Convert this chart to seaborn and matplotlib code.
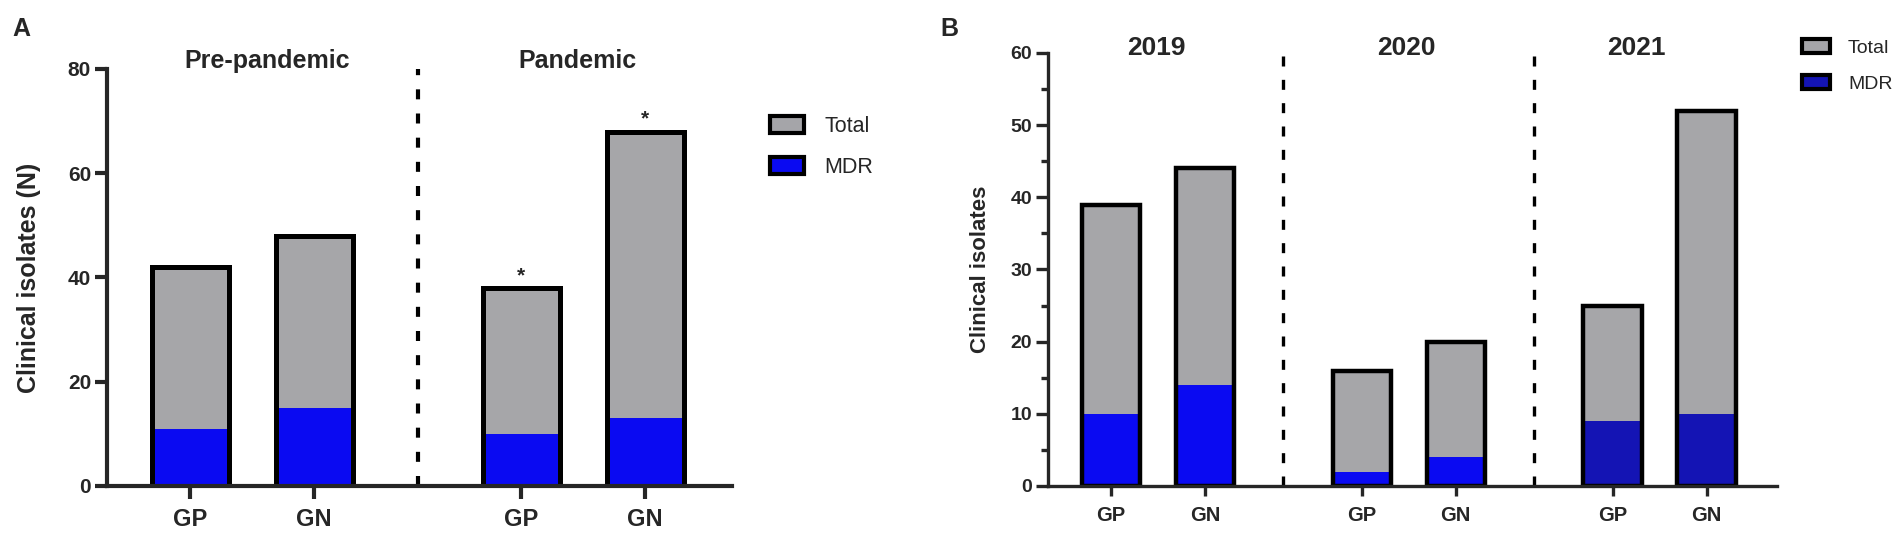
import seaborn as sns
import pandas as pd
import numpy as np
import matplotlib.pyplot as plt
from matplotlib.patches import Patch
from matplotlib.ticker import NullLocator

# ---- data ----
groups = ["GP", "GN"]
periods_a = ["Pre-pandemic", "Pandemic"]
total_a = [42, 48, 38, 68]
mdr_a = [11, 15, 10, 13]
star_a = [False, False, True, True]

years_b = ["2019", "2020", "2021"]
total_b = [39, 44, 16, 20, 25, 52]
mdr_b = [10, 14, 2, 4, 9, 10]

GREY = "#a5a5a9"
BLUE = "#0a0af2"
DARKBLUE = "#1414b4"

sns.set_style("ticks")
plt.rcParams["font.family"] = ["Liberation Sans", "DejaVu Sans"]

STEP = 2.67  # distance between the first bars of two blocks


def make_df(blocks, total, mdr):
    rows = []
    for i, b in enumerate(blocks):
        for j, g in enumerate(groups):
            k = i * len(groups) + j
            rows.append({"block": b, "group": g, "pos": i * STEP + j,
                         "total": total[k], "mdr": mdr[k]})
    return pd.DataFrame(rows)


def draw_panel(ax, df, mdr_palette, edge_lw):
    sns.barplot(data=df, x="pos", y="total", native_scale=True, color=GREY,
                width=0.64, errorbar=None, linewidth=0, ax=ax)
    sns.barplot(data=df, x="pos", y="mdr", hue="block", palette=mdr_palette,
                dodge=False, native_scale=True, width=0.64, errorbar=None,
                linewidth=0, legend=False, saturation=1, ax=ax)
    sns.barplot(data=df, x="pos", y="total", native_scale=True, fill=False,
                color="black", edgecolor="black", width=0.64 - 0.02,
                errorbar=None, linewidth=edge_lw, ax=ax)
    ax.set_xticks(df["pos"], df["group"])
    ax.xaxis.set_minor_locator(NullLocator())
    ax.yaxis.set_minor_locator(NullLocator())
    ax.set_xlabel("")
    sns.despine(ax=ax)


fig = plt.figure(figsize=(19.04, 5.33), dpi=100)

# ---------------- panel A ----------------
axA = fig.add_axes([0.0562, 0.0882, 0.3283, 0.7824])
dfa = make_df(periods_a, total_a, mdr_a)
draw_panel(axA, dfa, {p: BLUE for p in periods_a}, 3.6)
axA.set_xlim(-0.67, STEP + 1.70)
axA.set_ylim(0, 80)
axA.set_yticks([0, 20, 40, 60, 80])
axA.set_ylabel("Clinical isolates (N)", fontsize=18, fontweight="bold")
axA.yaxis.set_label_coords(-0.106, 0.5)
for s in axA.spines.values():
    s.set_linewidth(3)
axA.tick_params(axis="y", length=8.5, width=3, labelsize=15, pad=3)
axA.tick_params(axis="x", length=9, width=3, labelsize=17, pad=7)
for t in axA.get_xticklabels() + axA.get_yticklabels():
    t.set_fontweight("bold")
axA.vlines(STEP / 2 + 0.5, 0, 80, colors="black", linewidth=3,
           linestyles=(0, (2.4, 3.4)))
for i, p in enumerate(periods_a):
    xs = dfa.loc[dfa["block"] == p, "pos"].mean() + (0.12 if i == 0 else -0.05)
    axA.text(xs, 81.6, p, ha="center", va="center", fontsize=18,
             fontweight="bold", clip_on=False)
for x, h, s in zip(dfa["pos"], dfa["total"], star_a):
    if s:
        axA.text(x, h + 2.4, "*", ha="center", va="center", fontsize=15,
                 fontweight="bold")
axA.legend(handles=[Patch(facecolor=GREY, edgecolor="black", linewidth=3, label="Total"),
                    Patch(facecolor=BLUE, edgecolor="black", linewidth=3, label="MDR")],
           loc="upper left", bbox_to_anchor=(0.4044, 0.7824),
           bbox_transform=fig.transFigure, frameon=False, fontsize=15.5,
           handlelength=1.57, handleheight=0.78, labelspacing=0.93,
           handletextpad=0.97, borderpad=0, borderaxespad=0)

# ---------------- panel B ----------------
axB = fig.add_axes([0.5504, 0.0882, 0.3829, 0.8124])
dfb = make_df(years_b, total_b, mdr_b)
draw_panel(axB, dfb, {"2019": BLUE, "2020": BLUE, "2021": DARKBLUE}, 3.2)
axB.set_xlim(-0.67, 2 * STEP + 1.75)
axB.set_ylim(0, 60)
axB.set_yticks(np.arange(0, 61, 10))
axB.set_yticks(np.arange(5, 60, 10), minor=True)
axB.set_ylabel("Clinical isolates", fontsize=16, fontweight="bold")
axB.yaxis.set_label_coords(-0.078, 0.5)
for s in axB.spines.values():
    s.set_linewidth(2.4)
axB.tick_params(axis="y", which="major", length=8.5, width=2.4, labelsize=14, pad=3)
axB.tick_params(axis="y", which="minor", length=5, width=2.4)
axB.tick_params(axis="x", length=7.5, width=2.4, labelsize=14.5, pad=7)
for t in axB.get_xticklabels() + axB.get_yticklabels():
    t.set_fontweight("bold")
for i in range(len(years_b) - 1):
    axB.vlines(i * STEP + STEP / 2 + 0.5, 0, 60, colors="black", linewidth=2.4,
               linestyles=(0, (3, 4)))
title_shift = [-0.02, -0.03, -0.25]
for i, y in enumerate(years_b):
    xs = dfb.loc[dfb["block"] == y, "pos"].mean() + title_shift[i]
    axB.text(xs, 60.7, y, ha="center", va="center", fontsize=19,
             fontweight="bold", clip_on=False)
axB.legend(handles=[Patch(facecolor=GREY, edgecolor="black", linewidth=3, label="Total"),
                    Patch(facecolor=DARKBLUE, edgecolor="black", linewidth=3, label="MDR")],
           loc="upper left", bbox_to_anchor=(0.9464, 0.9268),
           bbox_transform=fig.transFigure, frameon=False, fontsize=14,
           handlelength=1.44, handleheight=0.72, labelspacing=0.96,
           handletextpad=0.93, borderpad=0, borderaxespad=0)

fig.text(21 / 1904, 1 - 29 / 533, "A", fontsize=18, fontweight="bold",
         ha="center", va="center")
fig.text(949 / 1904, 1 - 29 / 533, "B", fontsize=18, fontweight="bold",
         ha="center", va="center")

fig.savefig("out.png", dpi=100)
